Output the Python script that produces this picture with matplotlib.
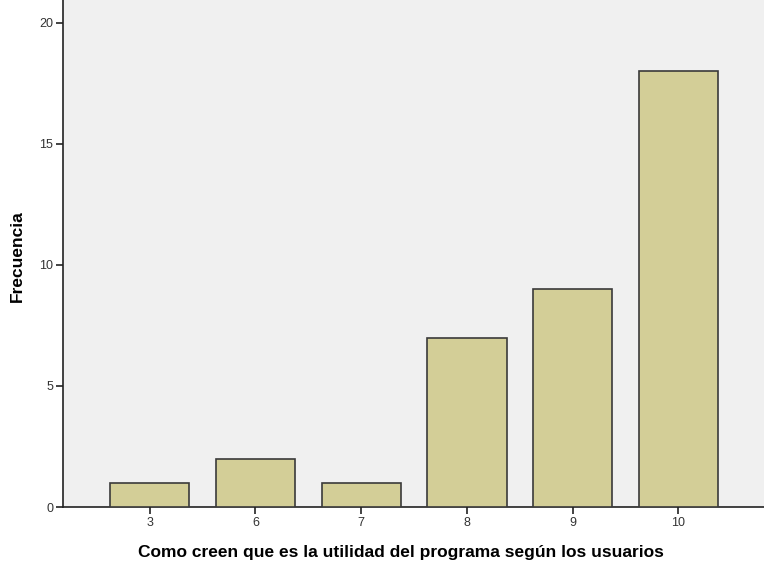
from matplotlib import pyplot as plt

# values
categories = ['3', '6', '7', '8', '9', '10']
frequencies = [1, 2, 1, 7, 9, 18]
y_ticks = [0, 5, 10, 15, 20]

plt.rcParams['font.family'] = ['Liberation Sans', 'DejaVu Sans']

fig = plt.figure(figsize=(7.64, 5.73), dpi=100)
ax = fig.add_axes([63 / 764, 1 - 507 / 573, 1 - 63 / 764, 507 / 573])
ax.set_facecolor('#f0f0f0')

positions = list(range(len(categories)))
ax.bar(positions, frequencies, width=0.75, color='#d3ce97',
       edgecolor='#3a3a3a', linewidth=1.2, zorder=3)

ax.set_xlim(-0.82, 5.81)
ax.set_ylim(0, 20.95)
ax.set_xticks(positions)
ax.set_xticklabels(categories)
ax.set_yticks(y_ticks)

for side in ['top', 'right']:
    ax.spines[side].set_visible(False)
for side in ['left', 'bottom']:
    ax.spines[side].set_color('#222222')
    ax.spines[side].set_linewidth(1.2)

ax.tick_params(axis='both', labelsize=9, length=5, width=1.2,
               color='#222222', labelcolor='#333333', pad=2)

ax.set_xlabel('Como creen que es la utilidad del programa según los usuarios',
              fontsize=12.5, fontweight='bold')
ax.set_ylabel('Frecuencia', fontsize=12.5, fontweight='bold')
# label placement as in the original (x label a bit left of centre)
ax.xaxis.set_label_coords(0.482, -0.075)
ax.yaxis.set_label_coords(-0.054, 0.495)

fig.savefig('out.png', dpi=100)
